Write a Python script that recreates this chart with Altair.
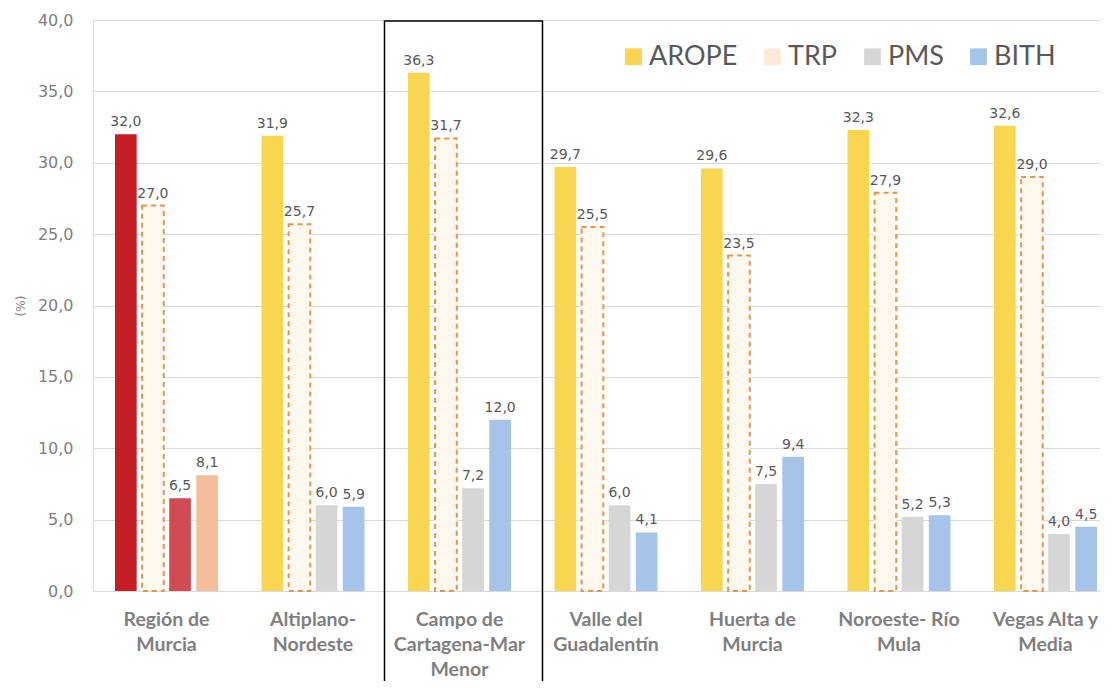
import altair as alt
import pandas as pd

categories = ["Región de|Murcia", "Altiplano-|Nordeste", "Campo de|Cartagena-Mar|Menor",
              "Valle del|Guadalentín", "Huerta de|Murcia", "Noroeste- Río|Mula", "Vegas Alta y|Media"]
series = ["AROPE", "TRP", "PMS", "BITH"]
arope = [32.0, 31.9, 36.3, 29.7, 29.6, 32.3, 32.6]
trp = [27.0, 25.7, 31.7, 25.5, 23.5, 27.9, 29.0]
pms = [6.5, 6.0, 7.2, 6.0, 7.5, 5.2, 4.0]
bith = [8.1, 5.9, 12.0, 4.1, 9.4, 5.3, 4.5]

rows = []
for s, vals in zip(series, [arope, trp, pms, bith]):
    for i, (c, v) in enumerate(zip(categories, vals)):
        key = ("R_" + s) if i == 0 else s
        rows.append({"cat": c, "series": s, "value": v, "key": key})
df = pd.DataFrame(rows)

key_domain = ["AROPE", "TRP", "PMS", "BITH", "R_AROPE", "R_TRP", "R_PMS", "R_BITH"]
key_range = ["#F8D650", "#FBEBD6", "#D6D6D6", "#A6C3E9", "#C41E24", "#FBEBD6", "#D14B52", "#F5BE9A"]

xs = alt.X("cat:N", sort=categories, title=None,
           scale=alt.Scale(paddingInner=0.297, paddingOuter=0.0853, align=0.88),
           axis=alt.Axis(labelExpr="split(datum.label, '|')", labelAngle=0, labelFont="Lato",
                         labelFontWeight="bold", labelFontSize=19.5, labelColor="#7F7F7F",
                         labelLineHeight=25, labelPadding=19, domain=False, ticks=False,
                         labelBaseline="top"))
xo = alt.XOffset("series:N", sort=series, scale=alt.Scale(domain=series, paddingInner=0.2))
ys = alt.Y("value:Q", title="(%)",
           scale=alt.Scale(domain=[0, 40], nice=False),
           axis=alt.Axis(values=[0, 5, 10, 15, 20, 25, 30, 35, 40],
                         labelExpr="replace(format(datum.value, '.1f'), '.', ',')",
                         labelFont="DejaVu Sans", labelFontSize=16, labelColor="#7F7F7F",
                         labelPadding=20, domain=False, ticks=False,
                         gridColor="#D9D9D9", gridWidth=1,
                         titleFont="DejaVu Sans", titleFontSize=12, titleFontWeight="normal",
                         titleColor="#7F7F7F", titlePadding=10))

base = alt.Chart(df)

bars = base.transform_filter("datum.series != 'TRP'").mark_bar().encode(
    x=xs, xOffset=xo, y=ys,
    color=alt.Color("key:N", scale=alt.Scale(domain=key_domain, range=key_range),
                    legend=alt.Legend(values=series, title=None, orient="none",
                                      direction="horizontal", legendX=527, legendY=23,
                                      symbolType="square", symbolSize=280, symbolStrokeWidth=0,
                                      labelFont="Lato", labelFontSize=27, labelColor="#595959",
                                      labelOffset=2, columnPadding=21, symbolOpacity=1))
)

trp_bars = base.transform_filter("datum.series == 'TRP'").mark_bar(
    fill="#FEF8EE", stroke="#E8954A", strokeDash=[5, 4], strokeWidth=2
).encode(x=xs, xOffset=xo, y=ys)

labels = base.transform_calculate(
    lab="replace(format(datum.value, '.1f'), '.', ',')"
).mark_text(dy=-12, font="DejaVu Sans", fontSize=14, color="#595959").encode(
    x=xs, xOffset=xo, y=ys, text="lab:N")

box = alt.Chart(pd.DataFrame({"cat": [categories[2]]})).mark_bar(
    width=158, xOffset=4, fill="transparent", stroke="black", strokeWidth=1.5, clip=False
).encode(x=xs, y=alt.value(1), y2=alt.value(690))

chart = alt.layer(bars, trp_bars, labels, box).properties(
    width=1007, height=571,
    autosize=alt.AutoSizeParams(type="none"),
    padding={"left": 85, "top": 12, "right": 0, "bottom": 90}
).configure_view(stroke=None).configure(background="white")

chart.save("out.html", embed_options={"renderer": "svg", "actions": False})
